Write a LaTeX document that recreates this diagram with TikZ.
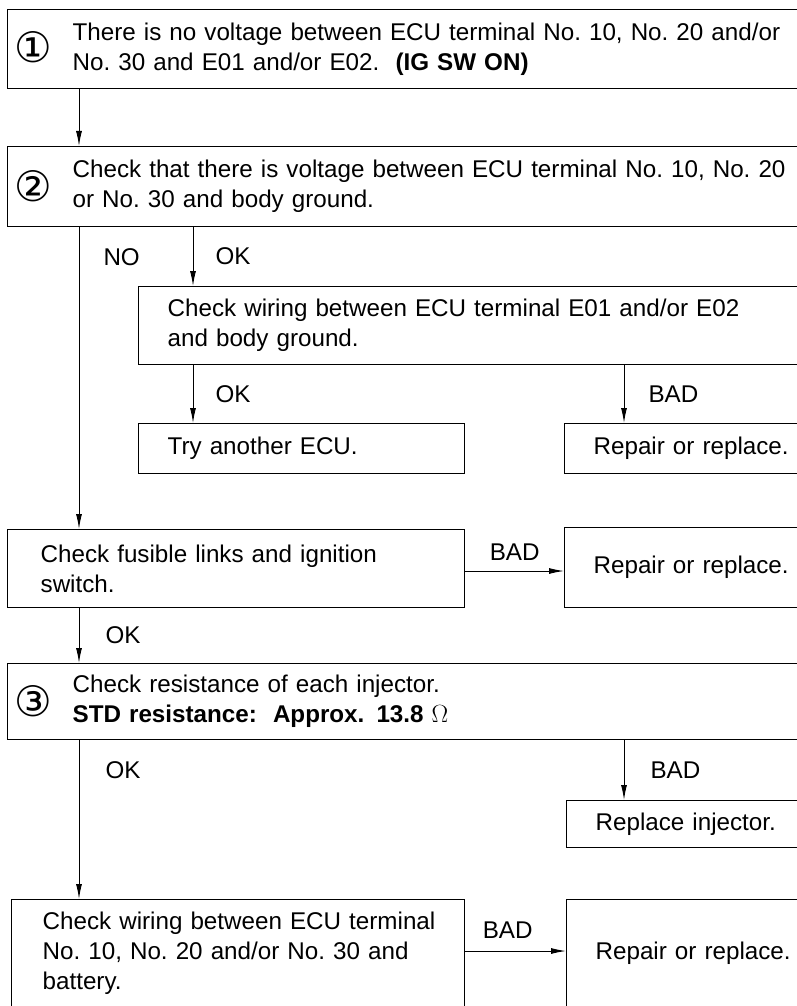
\documentclass[tikz,border=0pt]{standalone}
\usepackage{fontspec}
\setmainfont{Liberation Sans}
\newfontfamily\cerchiofont{DejaVu Sans}
\usetikzlibrary{arrows.meta}

\newcommand\testo{\fontsize{24.2}{30}\selectfont}

\tikzset{
  blocco/.style={draw, line width=1.3pt, anchor=north west, align=left,
    inner ysep=0pt, font=\testo},
  freccia/.style={line width=1pt, -{Latex[length=15pt,width=6pt]}},
  etichetta/.style={inner sep=0pt, font=\testo},
  numero/.style={inner sep=0pt, font=\cerchiofont\fontsize{42}{42}\selectfont}
}

\begin{document}
\begin{tikzpicture}[x=1pt, y=-1pt]
    \useasboundingbox (0,0) rectangle (796,1006);

    % Corsie verticali e righe orizzontali
    \coordinate (cA) at (79,0);
    \coordinate (cB) at (193,0);
    \coordinate (cC) at (624,0);
    \coordinate (rF) at (0,571);
    \coordinate (rW) at (0,951);

    % Passo 1
    \node[blocco, minimum width=900pt, minimum height=79pt, inner xsep=65pt, text width=770pt]
        (passo1) at (7,9) {There is no voltage between ECU terminal No.~10, No.~20 and/or\\
        No.~30 and E01 and/or E02.~~\textbf{(IG SW ON)}};
    \node[numero] (n1) at (33,47) {①};

    % Passo 2
    \node[blocco, minimum width=900pt, minimum height=80pt, inner xsep=65pt, text width=770pt]
        (passo2) at (7,146) {Check that there is voltage between ECU terminal No.~10, No.~20\\
        or No.~30 and body ground.};
    \node[numero] (n2) at (33,186) {②};

    % Ramo OK: massa della ECU
    \node[blocco, minimum width=800pt, minimum height=78pt, inner xsep=29pt, text width=742pt]
        (controllo) at (138,286) {Check wiring between ECU terminal E01 and/or E02\\
        and body ground.};
    \node[blocco, minimum width=326pt, minimum height=50pt, inner xsep=29pt, text width=268pt]
        (ecu) at (138,423) {Try another ECU.};
    \node[blocco, minimum width=400pt, minimum height=50pt, inner xsep=29pt, text width=342pt]
        (ripara1) at (564,423) {Repair or replace.};

    % Ramo NO: fusibili
    \node[blocco, minimum width=457pt, minimum height=78pt, inner xsep=33pt, text width=391pt]
        (fusibili) at (7,529) {Check fusible links and ignition\\ switch.};
    \node[blocco, minimum width=400pt, minimum height=80pt, inner xsep=29pt, text width=342pt]
        (ripara2) at (564,527) {Repair or replace.};

    % Passo 3
    \node[blocco, minimum width=900pt, minimum height=76pt, inner xsep=65pt, text width=770pt]
        (passo3) at (7,663) {Check resistance of each injector.\\
        \textbf{STD resistance:~~Approx. 13.8}~$\Omega$};
    \node[numero] (n3) at (33,701) {③};
    \node[blocco, minimum width=400pt, minimum height=47pt, inner xsep=29pt, text width=342pt]
        (iniettore) at (566,800) {Replace injector.};

    % Cablaggio verso la batteria
    \node[blocco, minimum width=453pt, minimum height=108pt, inner xsep=31pt, text width=391pt]
        (batteria) at (11,899) {\mbox{Check wiring between ECU terminal}\\
        No.~10, No.~20 and/or No.~30 and\\ battery.};
    \node[blocco, minimum width=400pt, minimum height=108pt, inner xsep=29pt, text width=342pt]
        (ripara3) at (566,899) {Repair or replace.};

    % Collegamenti
    \draw[freccia] (passo1.south -| cA) -- (passo2.north -| cA);
    \draw[freccia] (passo2.south -| cA) -- node[etichetta, pos=0.1, right=24pt] {NO} (fusibili.north -| cA);
    \draw[freccia] (passo2.south -| cB) -- node[etichetta, right=22pt] {OK} (controllo.north -| cB);
    \draw[freccia] (controllo.south -| cB) -- node[etichetta, right=22pt] {OK} (ecu.north -| cB);
    \draw[freccia] (controllo.south -| cC) -- node[etichetta, right=24pt] {BAD} (ripara1.north -| cC);
    \draw[freccia] (fusibili.east |- rF) -- node[etichetta, above=10pt] {BAD} (ripara2.west |- rF);
    \draw[freccia] (fusibili.south -| cA) -- node[etichetta, right=26pt] {OK} (passo3.north -| cA);
    \draw[freccia] (passo3.south -| cC) -- node[etichetta, right=26pt] {BAD} (iniettore.north -| cC);
    \draw[freccia] (passo3.south -| cA) -- node[etichetta, pos=0.19, right=26pt] {OK} (batteria.north -| cA);
    \draw[freccia] (batteria.east |- rW) -- node[etichetta, above=12pt, xshift=-8pt] {BAD} (ripara3.west |- rW);
\end{tikzpicture}
\end{document}
